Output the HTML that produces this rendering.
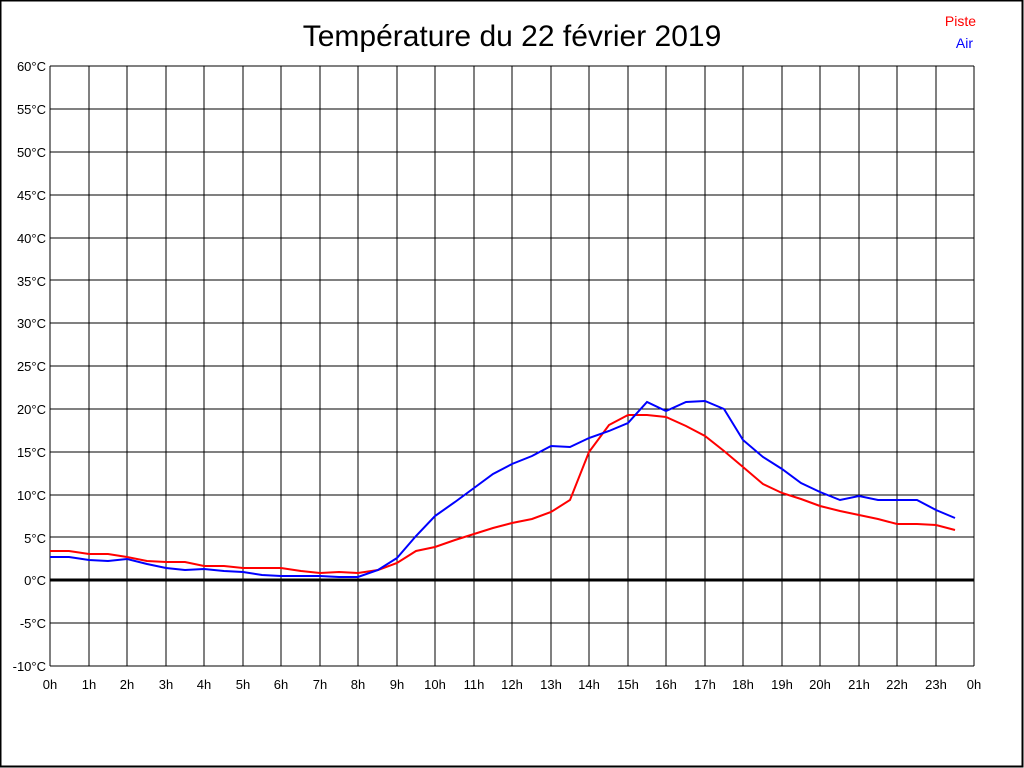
<!DOCTYPE html>
<html><head><meta charset="utf-8"><style>
html,body{margin:0;padding:0;background:#fff}
svg{display:block}
text{font-family:"Liberation Sans",sans-serif}
</style></head><body>
<svg width="1024" height="768" xmlns="http://www.w3.org/2000/svg">
<rect x="0" y="0" width="1024" height="768" fill="#fff"/>
<rect x="0.5" y="0.5" width="1022" height="766" fill="none" stroke="#000" stroke-width="2"/>
<text x="512" y="46" font-size="30" text-anchor="middle">Température du 22 février 2019</text>
<text x="976" y="26" font-size="14" fill="#f00" text-anchor="end">Piste</text>
<text x="973" y="48" font-size="14" fill="#00f" text-anchor="end">Air</text>
<g stroke="#000" stroke-width="1" shape-rendering="crispEdges">
<line x1="50" y1="66" x2="50" y2="666"/><line x1="89" y1="66" x2="89" y2="666"/><line x1="127" y1="66" x2="127" y2="666"/><line x1="166" y1="66" x2="166" y2="666"/><line x1="204" y1="66" x2="204" y2="666"/><line x1="243" y1="66" x2="243" y2="666"/><line x1="281" y1="66" x2="281" y2="666"/><line x1="320" y1="66" x2="320" y2="666"/><line x1="358" y1="66" x2="358" y2="666"/><line x1="397" y1="66" x2="397" y2="666"/><line x1="435" y1="66" x2="435" y2="666"/><line x1="474" y1="66" x2="474" y2="666"/><line x1="512" y1="66" x2="512" y2="666"/><line x1="551" y1="66" x2="551" y2="666"/><line x1="589" y1="66" x2="589" y2="666"/><line x1="628" y1="66" x2="628" y2="666"/><line x1="666" y1="66" x2="666" y2="666"/><line x1="705" y1="66" x2="705" y2="666"/><line x1="743" y1="66" x2="743" y2="666"/><line x1="782" y1="66" x2="782" y2="666"/><line x1="820" y1="66" x2="820" y2="666"/><line x1="859" y1="66" x2="859" y2="666"/><line x1="897" y1="66" x2="897" y2="666"/><line x1="936" y1="66" x2="936" y2="666"/><line x1="974" y1="66" x2="974" y2="666"/>
<line x1="50" y1="66" x2="974" y2="66"/><line x1="50" y1="109" x2="974" y2="109"/><line x1="50" y1="152" x2="974" y2="152"/><line x1="50" y1="195" x2="974" y2="195"/><line x1="50" y1="238" x2="974" y2="238"/><line x1="50" y1="280" x2="974" y2="280"/><line x1="50" y1="323" x2="974" y2="323"/><line x1="50" y1="366" x2="974" y2="366"/><line x1="50" y1="409" x2="974" y2="409"/><line x1="50" y1="452" x2="974" y2="452"/><line x1="50" y1="495" x2="974" y2="495"/><line x1="50" y1="537" x2="974" y2="537"/><line x1="50" y1="623" x2="974" y2="623"/><line x1="50" y1="666" x2="974" y2="666"/>
</g>
<line x1="50" y1="580" x2="974" y2="580" stroke="#000" stroke-width="3"/>
<g font-size="13" text-anchor="end" fill="#000">
<text x="46" y="71">60°C</text><text x="46" y="114">55°C</text><text x="46" y="157">50°C</text>
<text x="46" y="200">45°C</text><text x="46" y="243">40°C</text><text x="46" y="286">35°C</text>
<text x="46" y="328">30°C</text><text x="46" y="371">25°C</text><text x="46" y="414">20°C</text>
<text x="46" y="457">15°C</text><text x="46" y="500">10°C</text><text x="46" y="543">5°C</text>
<text x="46" y="585">0°C</text><text x="46" y="628">-5°C</text><text x="46" y="671">-10°C</text>
</g>
<g font-size="13" text-anchor="middle" fill="#000">
<text x="50" y="689">0h</text><text x="89" y="689">1h</text><text x="127" y="689">2h</text><text x="166" y="689">3h</text>
<text x="204" y="689">4h</text><text x="243" y="689">5h</text><text x="281" y="689">6h</text><text x="320" y="689">7h</text>
<text x="358" y="689">8h</text><text x="397" y="689">9h</text><text x="435" y="689">10h</text><text x="474" y="689">11h</text>
<text x="512" y="689">12h</text><text x="551" y="689">13h</text><text x="589" y="689">14h</text><text x="628" y="689">15h</text>
<text x="666" y="689">16h</text><text x="705" y="689">17h</text><text x="743" y="689">18h</text><text x="782" y="689">19h</text>
<text x="820" y="689">20h</text><text x="859" y="689">21h</text><text x="897" y="689">22h</text><text x="936" y="689">23h</text>
<text x="974" y="689">0h</text>
</g>
<polyline fill="none" stroke="#f00" stroke-width="2" points="50,551 69,551 89,554 108,554 127,557 147,561 166,562 185,562 204,566 224,566 243,568 262,568 281,568 301,571 320,573 339,572 358,573 378,570 397,563 416,551 435,547 455,540 474,534 493,528 512,523 532,519 551,512 570,500 589,452 609,425 628,415 647,415 666,417 686,426 705,436 724,451 743,467 763,484 782,493 801,499 820,506 840,511 859,515 878,519 897,524 917,524 936,525 955,530"/>
<polyline fill="none" stroke="#00f" stroke-width="2" points="50,557 69,557 89,560 108,561 127,559 147,564 166,568 185,570 204,569 224,571 243,572 262,575 281,576 301,576 320,576 339,577 358,577 378,570 397,558 416,536 435,516 455,502 474,488 493,474 512,464 532,456 551,446 570,447 589,438 609,431 628,423 647,402 666,411 686,402 705,401 724,409 743,440 763,457 782,469 801,483 820,492 840,500 859,496 878,500 897,500 917,500 936,510 955,518"/>
</svg>
</body></html>
